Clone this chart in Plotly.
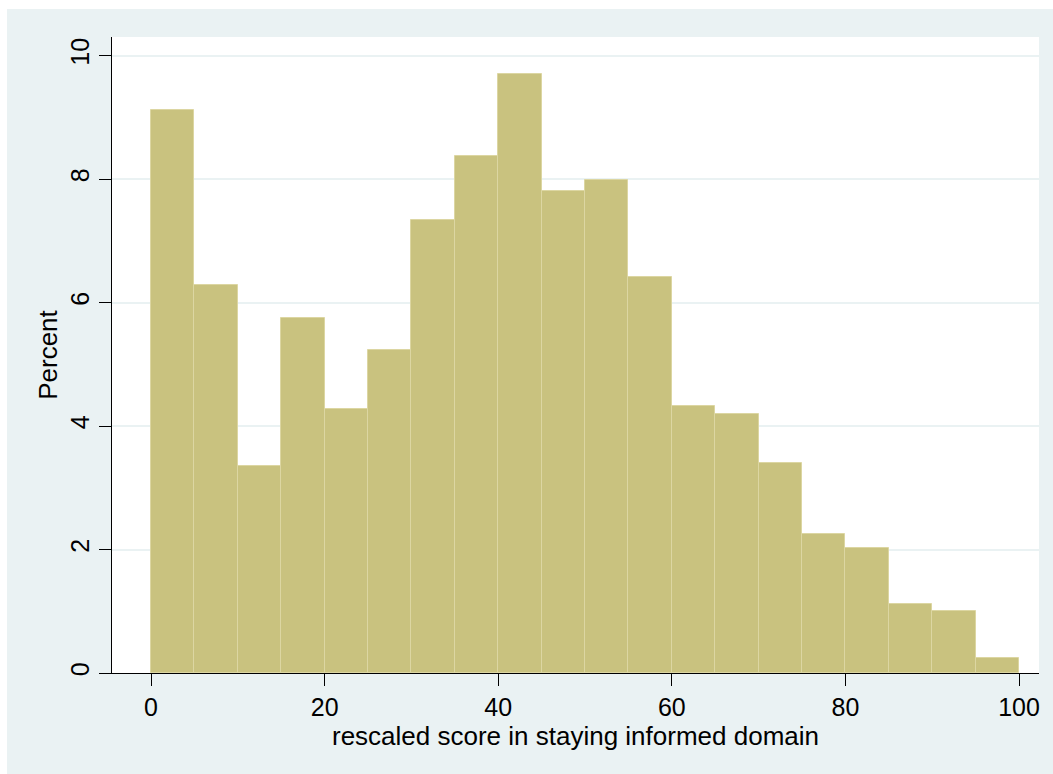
import plotly.graph_objects as go

# Histogram data (bin width 5)
bin_starts = [0, 5, 10, 15, 20, 25, 30, 35, 40, 45, 50, 55, 60, 65, 70, 75, 80, 85, 90, 95]
percent = [9.11, 6.28, 3.35, 5.75, 4.27, 5.23, 7.34, 8.38, 9.70, 7.80,
           7.98, 6.42, 4.32, 4.20, 3.40, 2.25, 2.03, 1.12, 1.00, 0.25]
bin_width = 5
x_ticks = [0, 20, 40, 60, 80, 100]
y_ticks = [0, 2, 4, 6, 8, 10]

centers = [s + bin_width / 2 for s in bin_starts]

FONT = "Liberation Sans, Arial, sans-serif"
BG = "#eaf2f3"

fig = go.Figure()
fig.add_trace(go.Bar(
    x=centers, y=percent, width=[bin_width] * len(centers),
    marker=dict(color="#c9c27f", line=dict(color="#dcd6a2", width=1)),
    hoverinfo="x+y",
))

fig.update_layout(
    width=1053, height=774,
    margin=dict(l=112, r=14, t=37, b=101),
    paper_bgcolor=BG,
    plot_bgcolor="white",
    font=dict(family=FONT, size=25, color="black"),
    showlegend=False,
    bargap=0,
    xaxis=dict(
        range=[-4.5, 102.3], tickvals=x_ticks, ticktext=[str(v) for v in x_ticks],
        showgrid=False, zeroline=False, showline=True, linecolor="black", linewidth=1,
        ticks="outside", ticklen=12, tickcolor="black", tickwidth=1,
        title=dict(text="rescaled score in staying informed domain", standoff=0,
                   font=dict(size=26)),
    ),
    yaxis=dict(
        range=[0, 10.3], tickvals=y_ticks, ticktext=[str(v) for v in y_ticks],
        tickangle=-90,
        showgrid=True, gridcolor=BG, gridwidth=1.5, zeroline=False,
        showline=True, linecolor="black", linewidth=1,
        ticks="outside", ticklen=12, tickcolor="black", tickwidth=1,
        title=dict(text="Percent", standoff=0, font=dict(size=26)),
    ),
    shapes=[
        dict(type="rect", xref="paper", yref="paper", x0=-0.2, x1=1.2,
             y0=(673 - 9) / 636, y1=1.2, fillcolor="white", line=dict(width=0), layer="above"),
        dict(type="rect", xref="paper", yref="paper", x0=-0.2, x1=(7 - 112) / 927,
             y0=-0.3, y1=1.2, fillcolor="white", line=dict(width=0), layer="above"),
    ],
)

fig.write_html("out.html")
